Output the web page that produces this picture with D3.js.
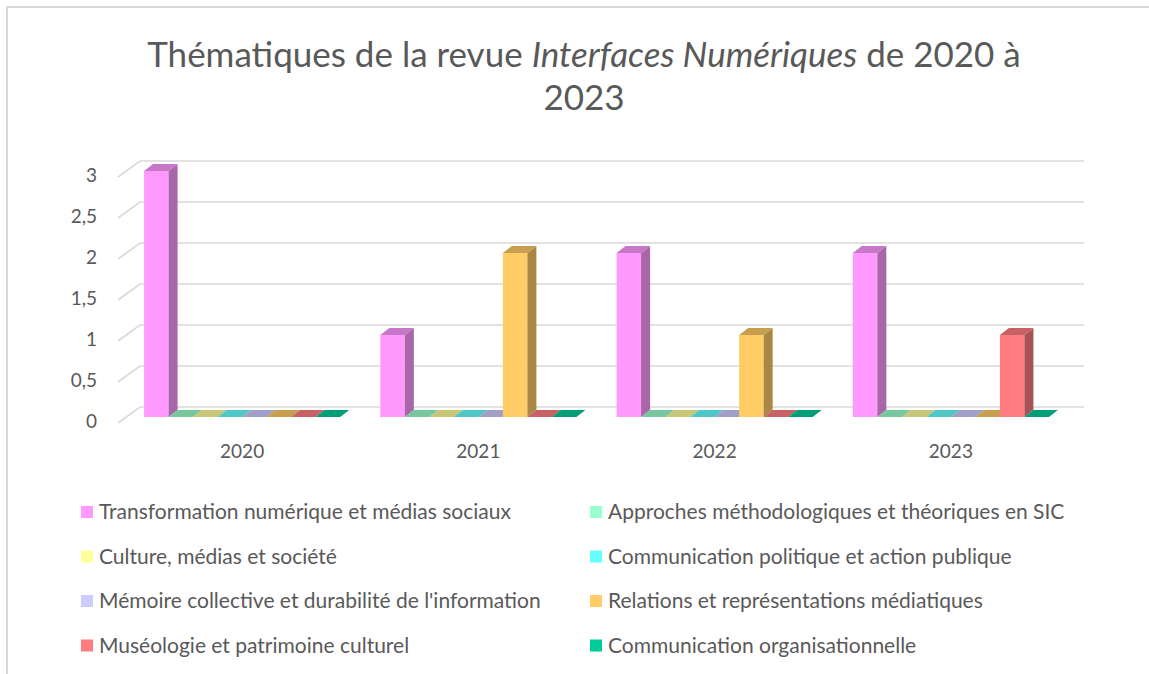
<!DOCTYPE html>
<html>
<head>
<meta charset="utf-8">
<script src="https://cdn.jsdelivr.net/npm/d3@7"></script>
<style>
  body { margin: 0; background: #fff; }
  text { font-family: Lato, "Open Sans", sans-serif; fill: #595959; }
</style>
</head>
<body>
<svg id="chart" width="1149" height="674"></svg>
<script>
// données
const years = ["2020", "2021", "2022", "2023"];
const themes = [
  "Transformation numérique et médias sociaux",
  "Approches méthodologiques et théoriques en SIC",
  "Culture, médias et société",
  "Communication politique et action publique",
  "Mémoire collective et durabilité de l'information",
  "Relations et représentations médiatiques",
  "Muséologie et patrimoine culturel",
  "Communication organisationnelle"
];
const colors = ["#FF99FF", "#99FFCC", "#FFFF99", "#66FFFF", "#CCCCFF", "#FFCC66", "#FF7C80", "#00CC99"];
// une ligne par thème, une valeur par année
const values = [
  [3, 1, 2, 2],
  [0, 0, 0, 0],
  [0, 0, 0, 0],
  [0, 0, 0, 0],
  [0, 0, 0, 0],
  [0, 2, 1, 0],
  [0, 0, 0, 1],
  [0, 0, 0, 0]
];
const yTicks = [0, 0.5, 1, 1.5, 2, 2.5, 3];

const svg = d3.select("#chart");

// cadre gris (gauche + haut)
svg.append("path")
  .attr("d", "M7,674 L7,7 L1149,7")
  .attr("fill", "none")
  .attr("stroke", "#d9d9d9")
  .attr("stroke-width", 2);

// titre
const title = svg.append("text")
  .attr("x", 584)
  .attr("text-anchor", "middle")
  .style("font-size", "35px");
const l1 = title.append("tspan").attr("x", 584).attr("y", 67);
l1.append("tspan").text("Thématiques de la revue ");
l1.append("tspan").style("font-style", "italic").text("Interfaces Numériques");
l1.append("tspan").text(" de 2020 à");
title.append("tspan").attr("x", 584).attr("y", 110).text("2023");

// échelles (face avant des barres)
const x = d3.scaleBand()
  .domain(years)
  .range([124, 1069])
  .paddingInner(0.17)
  .paddingOuter(0.085);
const y = d3.scaleLinear().domain([0, 3]).range([417, 171]);

// décalages de la perspective 3D
const depthX = 9, depthY = -7;     // profondeur des barres
const wallY = -10, floorY = 6;     // mur du fond / bord avant

// quadrillage : petit trait en biais sur la paroi gauche puis ligne horizontale au fond
const grid = svg.append("g");
yTicks.forEach(v => {
  grid.append("path")
    .attr("d", `M118,${y(v) + floorY} L140,${y(v) + wallY} L1084,${y(v) + wallY}`)
    .attr("fill", "none")
    .attr("stroke", "#d9d9d9")
    .attr("stroke-width", 1.6);
});

// axe Y (étiquettes seulement)
const fmt = d => String(d).replace(".", ",");
svg.append("g")
  .attr("transform", `translate(97,${floorY - 2})`)
  .call(d3.axisLeft(y).tickValues(yTicks).tickFormat(fmt).tickSize(0).tickPadding(0))
  .call(g => g.select(".domain").remove())
  .selectAll("text")
  .style("font-size", "19px")
  .attr("fill", "#595959");

// axe X
svg.append("g")
  .attr("transform", "translate(0,440)")
  .call(d3.axisBottom(x).tickSize(0).tickPadding(0))
  .call(g => g.select(".domain").remove())
  .selectAll("text")
  .style("font-size", "19px")
  .attr("fill", "#595959")
  .attr("dy", "0.95em");

// barres 3D
const bw = x.bandwidth() / themes.length;
const bars = svg.append("g");
years.forEach((yr, j) => {
  themes.forEach((t, s) => {
    const v = values[s][j];
    const x0 = x(yr) + s * bw;
    const yt = y(v), yb = y(0);
    const base = d3.color(colors[s]);
    const top = base.darker(0.7);
    const side = base.darker(1.15);
    // face avant
    if (v > 0) {
      bars.append("rect")
        .attr("x", x0).attr("y", yt)
        .attr("width", bw).attr("height", yb - yt)
        .attr("fill", colors[s]);
      // côté droit
      bars.append("path")
        .attr("d", `M${x0 + bw},${yt} L${x0 + bw + depthX},${yt + depthY} L${x0 + bw + depthX},${yb + depthY} L${x0 + bw},${yb} Z`)
        .attr("fill", side);
    }
    // dessus
    bars.append("path")
      .attr("d", `M${x0},${yt} L${x0 + depthX},${yt + depthY} L${x0 + bw + depthX},${yt + depthY} L${x0 + bw},${yt} Z`)
      .attr("fill", top);
  });
});

// légende sur deux colonnes
const legend = svg.append("g");
const colX = [81, 590];
themes.forEach((t, i) => {
  const cx = colX[i % 2];
  const cy = 512 + Math.floor(i / 2) * 44.5;
  legend.append("rect")
    .attr("x", cx).attr("y", cy - 6)
    .attr("width", 12).attr("height", 12)
    .attr("fill", colors[i]);
  legend.append("text")
    .attr("x", cx + 18).attr("y", cy)
    .attr("dy", "0.35em")
    .style("font-size", "21px")
    .text(t);
});
</script>
</body>
</html>
